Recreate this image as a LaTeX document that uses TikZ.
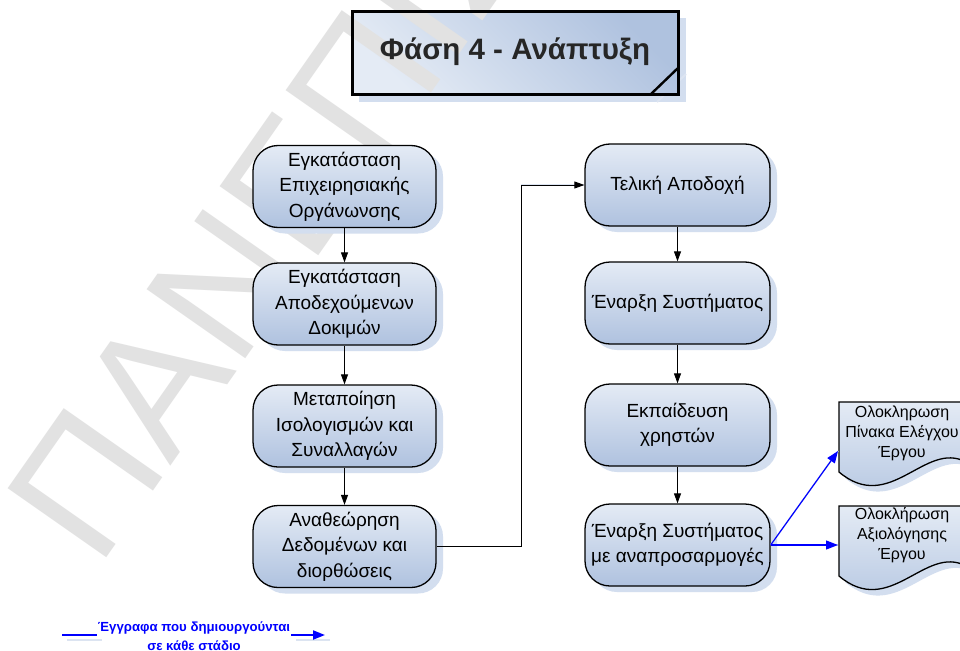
\documentclass[tikz,border=0pt]{standalone}
\usepackage{fontspec}
\setmainfont{Liberation Sans}
\usetikzlibrary{arrows.meta,shadows}

\definecolor{boxtop}{HTML}{E4EBF5}
\definecolor{boxbot}{HTML}{AFC2DF}
\definecolor{shadowblue}{HTML}{D3DEEF}
\definecolor{lineshadow}{HTML}{DCE4F1}
\definecolor{docblue}{HTML}{0000FF}
\definecolor{markgray}{HTML}{E2E2E2}

\tikzset{
  stepbox/.style={draw=black, line width=1.3pt, rounded corners=25pt,
    minimum width=183pt, minimum height=82pt, align=center,
    top color=boxtop, bottom color=boxbot,
    font=\fontsize{19}{25.5}\selectfont,
    drop shadow={shadow xshift=7pt, shadow yshift=-6pt, fill=shadowblue, opacity=1}},
  conn/.style={draw=black, line width=1pt, -{Triangle[length=10pt,width=7pt]}},
  connshadow/.style={draw=lineshadow, line width=1.6pt},
  docconn/.style={draw=docblue, line width=1.2pt, -{Triangle[length=12pt,width=9pt]}},
  doctext/.style={align=center, font=\fontsize{16}{20}\selectfont},
  docshape/.style={draw=black, line width=1.3pt, top color=boxtop, bottom color=boxbot},
  watermark/.style={rotate=55, anchor=base west, text=markgray,
    font=\fontsize{175}{175}\selectfont, inner sep=0pt},
}

\begin{document}
\begin{tikzpicture}[x=1pt,y=-1pt]
\useasboundingbox (0,0) rectangle (960,650);
\clip (0,0) rectangle (960,650);
\fill[white] (0,0) rectangle (960,650);

% title panel with folded corner
\fill[shadowblue] (359,18) rectangle (686,102);
\draw[lineshadow, line width=2pt] (657,102) -- (686,74);
\shade[left color=boxtop, right color=boxbot, shading angle=135]
  (352,12) rectangle (678,95);

% large pale lettering across the sheet
\node[watermark] (wm) at (98,570) {ΠΑΝΕΠΙΣΤΗΜΙΟ};

\draw[line width=3pt] (352,12) rectangle (678,95);
\draw[line width=2.4pt] (650,95) -- (678,68);
\node[font=\bfseries\fontsize{29.5}{31}\selectfont, text=black!85] (title) at (515,52) {Φάση 4 - Ανάπτυξη};

% left column
\node[stepbox] (b1) at (344.5,186.5) {Εγκατάσταση\\Επιχειρησιακής\\Οργάνωνσης};
\node[stepbox] (b2) at (344.5,304) {Εγκατάσταση\\Αποδεχούμενων\\Δοκιμών};
\node[stepbox] (b3) at (344.5,426) {Μεταποίηση\\Ισολογισμών και\\Συναλλαγών};
\node[stepbox] (b4) at (344.5,546.5) {Αναθεώρηση\\Δεδομένων και\\διορθώσεις};

% right column
\node[stepbox, minimum width=185pt] (r1) at (677.5,185) {Τελική Αποδοχή};
\node[stepbox, minimum width=185pt] (r2) at (677.5,303) {Έναρξη Συστήματος};
\node[stepbox, minimum width=185pt] (r3) at (677.5,425) {Εκπαίδευση\\χρηστών};
\node[stepbox, minimum width=185pt] (r4) at (677.5,545) {Έναρξη Συστήματος\\με αναπροσαρμογές};

% document shapes
\foreach \dy in {0, 104}{
  \begin{scope}[yshift=-\dy pt]
    \fill[shadowblue] (845,408) -- (972,408) -- (972,468)
      .. controls (931,446) and (896,521) .. (845,478) -- cycle;
    \draw[docshape] (839,402) -- (966,402) -- (966,462)
      .. controls (925,440) and (890,515) .. (839,472) -- cycle;
  \end{scope}
}
\node[doctext] (d1) at (902,433) {Ολοκληρωση\\Πίνακα Ελέγχου\\Έργου};
\node[doctext] (d2) at (902,535) {Ολοκλήρωση\\Αξιολόγησης\\Έργου};
\coordinate (d1in) at (838,451);
\coordinate (d2in) at (838,545);

% connector shadows
\begin{scope}[shift={(7pt,-6pt)}]
  \foreach \a/\b in {b1/b2, b2/b3, b3/b4, r1/r2, r2/r3, r3/r4}
    \draw[connshadow] (\a.south) -- (\b.north);
  \draw[connshadow] (b4.east) -- ++(85,0) |- (r1.west);
  \draw[connshadow] (r4.east) -- (d1in);
  \draw[connshadow] (r4.east) -- (d2in);
\end{scope}

% connectors
\foreach \a/\b in {b1/b2, b2/b3, b3/b4, r1/r2, r2/r3, r3/r4}
  \draw[conn] (\a.south) -- (\b.north);
\draw[conn] (b4.east) -- ++(85,0) |- (r1.west);
\draw[docconn] (r4.east) -- (d1in);
\draw[docconn] (r4.east) -- (d2in);

% legend
\node[font=\bfseries\fontsize{13.2}{19}\selectfont, text=docblue, align=center, inner sep=1pt]
  (legend) at (194,636) {Έγγραφα που δημιουργούνται\\σε κάθε στάδιο};
\coordinate (lgA) at (62,635);
\coordinate (lgB) at (325,635);
\draw[lineshadow, line width=2pt] ([shift={(5pt,-5pt)}]lgA) -- ([shift={(5pt,-5pt)}]legend.west |- lgA);
\draw[lineshadow, line width=2pt] ([shift={(5pt,-5pt)}]legend.east |- lgB) -- ([shift={(5pt,-5pt)}]lgB);
\draw[docblue, line width=2pt] (lgA) -- (legend.west |- lgA);
\draw[docblue, line width=2pt, -{Triangle[length=12pt,width=9pt]}] (legend.east |- lgB) -- (lgB);
\end{tikzpicture}
\end{document}
